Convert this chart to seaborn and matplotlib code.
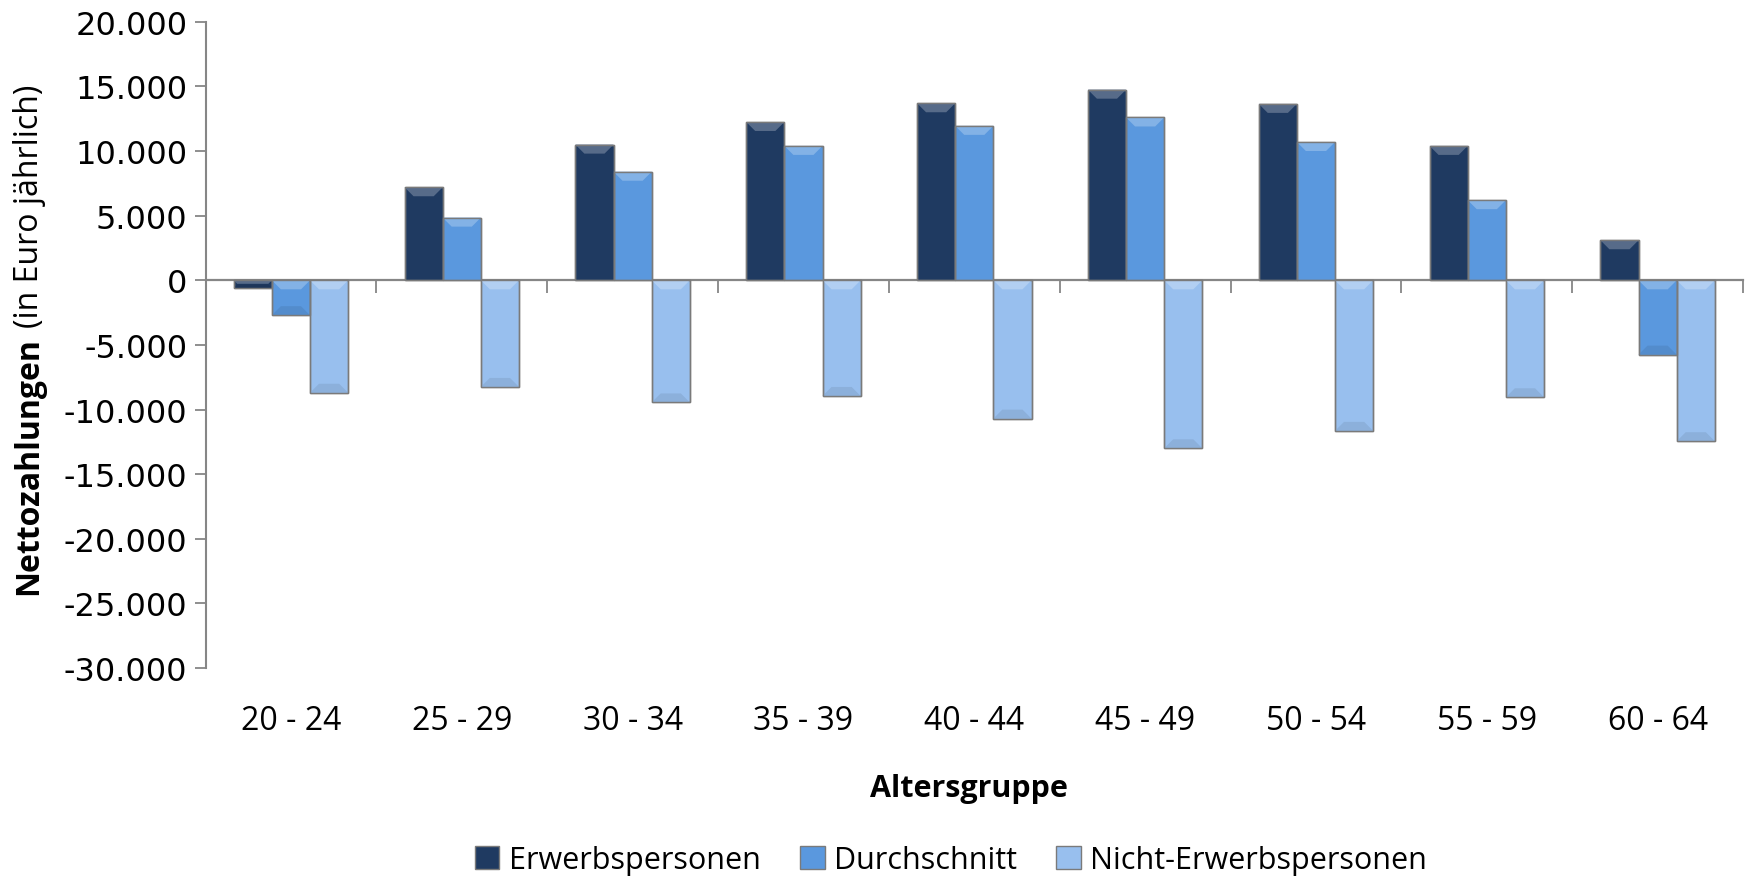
import matplotlib
matplotlib.use("Agg")
import matplotlib.pyplot as plt
from matplotlib.patches import Polygon
from matplotlib.ticker import FuncFormatter, FixedLocator
import matplotlib.colors as mcolors
import seaborn as sns
import pandas as pd

# Net payments by age group (EUR per year)
age_groups = ["20 - 24", "25 - 29", "30 - 34", "35 - 39", "40 - 44",
              "45 - 49", "50 - 54", "55 - 59", "60 - 64"]
erwerbspersonen = [-600, 7200, 10500, 12250, 13700, 14750, 13650, 10400, 3100]
durchschnitt = [-2700, 4850, 8400, 10400, 11950, 12600, 10700, 6200, -5750]
nicht_erwerbspersonen = [-8700, -8250, -9450, -8950, -10700, -13000, -11650, -9050, -12450]
series_names = ["Erwerbspersonen", "Durchschnitt", "Nicht-Erwerbspersonen"]
y_ticks = list(range(-30000, 20001, 5000))

palette = ["#1F3A61", "#5A98DE", "#98BFEE"]
edge_grey = "#7A7A7A"
axis_grey = "#868686"
text_font = ["Open Sans", "DejaVu Sans"]

df = pd.DataFrame({
    "Altersgruppe": age_groups * 3,
    "Wert": erwerbspersonen + durchschnitt + nicht_erwerbspersonen,
    "Gruppe": [s for s in series_names for _ in age_groups],
})

sns.set_theme(style="white")
plt.rcParams["font.family"] = ["DejaVu Sans"]
plt.rcParams["text.color"] = "black"
plt.rcParams["xtick.labelcolor"] = "black"
plt.rcParams["ytick.labelcolor"] = "black"

fig = plt.figure(figsize=(17.61, 8.78), dpi=100)
ax = fig.add_axes([0.1167, 0.238, 0.9898 - 0.1167, 0.974 - 0.238])

sns.barplot(data=df, x="Altersgruppe", y="Wert", hue="Gruppe",
            order=age_groups, hue_order=series_names, palette=palette,
            width=0.67, saturation=1, edgecolor=edge_grey, linewidth=1.0,
            legend=True, ax=ax)

ax.set_xlim(-0.5, len(age_groups) - 0.5)
ax.set_ylim(y_ticks[0], y_ticks[-1])
ax.yaxis.set_major_locator(FixedLocator(y_ticks))
ax.yaxis.set_major_formatter(FuncFormatter(lambda v, p: f"{int(v):,}".replace(",", ".")))
ax.tick_params(axis="y", direction="out", length=8, width=1.3, color=axis_grey,
               labelsize=23, pad=5, left=True, labelcolor="black")
ax.tick_params(axis="x", length=0, labelsize=23, pad=26, labelcolor="black")
for lab in ax.get_xticklabels():
    lab.set_fontfamily(text_font)
ax.set_xlabel("")
ax.set_ylabel("")
for side in ["top", "right", "bottom"]:
    ax.spines[side].set_visible(False)
ax.spines["left"].set_color(axis_grey)
ax.spines["left"].set_linewidth(1.5)

# category axis crossing at zero, with ticks between the groups
zero_frac = (0 - y_ticks[0]) / (y_ticks[-1] - y_ticks[0])
sec = ax.secondary_xaxis(zero_frac)
sec.set_alignment("bottom")
sec.spines["bottom"].set_color(axis_grey)
sec.spines["bottom"].set_linewidth(1.6)
sec.set_xticks([i + 0.5 for i in range(-1, len(age_groups))])
sec.tick_params(axis="x", direction="out", length=9, width=1.3, color=axis_grey,
                labelbottom=False, labeltop=False)

# bevelled bar ends
to_px = ax.transData.transform([[0, 0], [1, 1]])
px_x = to_px[1][0] - to_px[0][0]
px_y = to_px[1][1] - to_px[0][1]
bevel_px = 9
for patch in list(ax.patches):
    x0, w = patch.get_x(), patch.get_width()
    y0, h = patch.get_y(), patch.get_height()
    lo, hi = min(y0, y0 + h), max(y0, y0 + h)
    span_px = (hi - lo) * px_y
    b = min(bevel_px, span_px * 0.45)
    dy = b / px_y
    dx = b / px_x
    base = mcolors.to_rgb(patch.get_facecolor())
    light = tuple(c + (1 - c) * 0.25 for c in base)
    dark = tuple(c * 0.92 for c in base)
    ax.add_patch(Polygon([(x0, hi), (x0 + w, hi), (x0 + w - dx, hi - dy), (x0 + dx, hi - dy)],
                         closed=True, facecolor=light, edgecolor="none", zorder=patch.get_zorder() + 0.1))
    if h < 0:
        ax.add_patch(Polygon([(x0, lo), (x0 + w, lo), (x0 + w - dx, lo + dy), (x0 + dx, lo + dy)],
                             closed=True, facecolor=dark, edgecolor="none",
                             zorder=patch.get_zorder() + 0.1))
    ax.add_patch(Polygon([(x0, lo), (x0, hi), (x0 + w, hi), (x0 + w, lo)], closed=True,
                         facecolor="none", edgecolor=edge_grey, linewidth=1.0,
                         zorder=patch.get_zorder() + 0.2))

# legend below the chart
handles, labels = ax.get_legend_handles_labels()
ax.get_legend().remove()
fig.legend(handles, labels, loc="center", bbox_to_anchor=(0.540, 0.019), ncol=3,
           frameon=False, prop={"family": text_font, "size": 22},
           handlelength=0.8, handleheight=0.8, handletextpad=0.3, columnspacing=1.3)

# axis titles
fig.text(0.55, 0.1008, "Altersgruppe", ha="center", va="center",
         fontsize=22, fontweight="bold", family=text_font)
t1 = fig.text(0.0165, 0.322, "Nettozahlungen", rotation=90, ha="center", va="bottom",
              fontsize=23, fontweight="bold", family=text_font)
fig.canvas.draw()
bb = t1.get_window_extent()
fig.text(0.0165, (bb.y1 + 9) / fig.bbox.height, "(in Euro jährlich)", rotation=90,
         ha="center", va="bottom", fontsize=23, family=text_font)

fig.savefig("out.png", dpi=100)
